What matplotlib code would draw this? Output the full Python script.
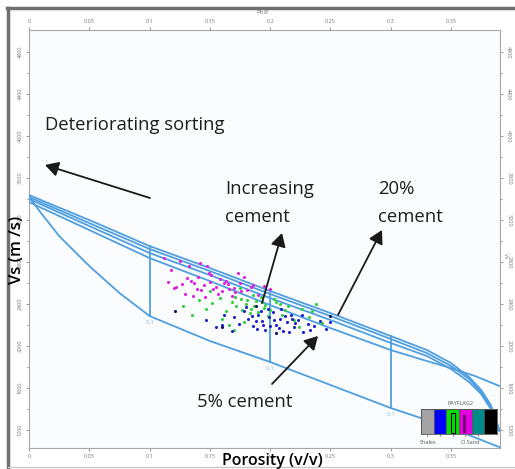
import matplotlib
matplotlib.use('Agg')
import matplotlib.pyplot as plt
from matplotlib.patches import Rectangle, FancyArrowPatch
from matplotlib.lines import Line2D

# ---------------- data ----------------
phi_grid = [0.0, 0.05, 0.10, 0.15, 0.20, 0.25, 0.30, 0.33, 0.35, 0.365, 0.375, 0.383, 0.39]
vs_cement_20 = [3438, 3200, 2952, 2743, 2524, 2314, 2095, 1962, 1838, 1705, 1581, 1438, 1200]
vs_cement_15 = [3419, 3171, 2924, 2714, 2495, 2286, 2067, 1933, 1810, 1686, 1562, 1419, 1195]
vs_cement_10 = [3400, 3143, 2886, 2676, 2457, 2248, 2029, 1905, 1781, 1657, 1543, 1400, 1190]
phi_cement_5 = [0.0, 0.05, 0.10, 0.15, 0.20, 0.25, 0.30, 0.33, 0.35, 0.37, 0.39]
vs_cement_5 = [3371, 3105, 2838, 2619, 2390, 2171, 1962, 1857, 1790, 1714, 1620]

phi_uncemented = [0.0, 0.01, 0.025, 0.05, 0.075, 0.10, 0.15, 0.20, 0.25, 0.30, 0.35, 0.39]
vs_uncemented = [3419, 3267, 3048, 2762, 2505, 2286, 2048, 1848, 1629, 1410, 1219, 1038]

iso_phi = [0.1, 0.2, 0.3]
iso_top = [2952, 2524, 2095]
iso_bottom = [2286, 1848, 1410]
iso_label = ['0.1', '0.1', '0.1']

magenta_phi = [0.112, 0.118, 0.125, 0.131, 0.137, 0.142, 0.148, 0.122, 0.127, 0.134, 0.139, 0.145, 0.150, 0.155,
               0.160, 0.165, 0.170, 0.175, 0.181, 0.186, 0.129, 0.136, 0.143, 0.151, 0.158, 0.163, 0.168, 0.173,
               0.178, 0.146, 0.153, 0.157, 0.162, 0.171, 0.184, 0.190, 0.115, 0.120, 0.140, 0.149, 0.166, 0.176,
               0.195, 0.200, 0.133]
magenta_vs = [2840, 2720, 2810, 2650, 2600, 2790, 2760, 2560, 2590, 2620, 2540, 2580, 2610, 2560,
              2520, 2590, 2550, 2600, 2530, 2580, 2500, 2480, 2530, 2680, 2640, 2620, 2480, 2700,
              2660, 2470, 2540, 2500, 2600, 2510, 2560, 2490, 2610, 2550, 2660, 2700, 2540, 2520,
              2570, 2540, 2760]

green_phi = [0.128, 0.135, 0.141, 0.147, 0.152, 0.158, 0.163, 0.168, 0.172, 0.176, 0.180, 0.184, 0.188, 0.192,
             0.196, 0.200, 0.205, 0.210, 0.215, 0.220, 0.226, 0.232, 0.238, 0.160, 0.166, 0.171, 0.177, 0.183,
             0.187, 0.193, 0.198, 0.203, 0.170, 0.178, 0.186, 0.195, 0.212, 0.224, 0.150, 0.208, 0.190, 0.175,
             0.235, 0.243, 0.181]
green_vs = [2380, 2300, 2440, 2350, 2410, 2460, 2330, 2420, 2380, 2450, 2400, 2350, 2430, 2470,
            2390, 2340, 2420, 2300, 2380, 2250, 2350, 2280, 2400, 2260, 2200, 2470, 2340, 2310,
            2380, 2420, 2290, 2450, 2150, 2230, 2490, 2360, 2340, 2180, 2520, 2400, 2320, 2550,
            2330, 2220, 2440]

blue_phi = [0.147, 0.155, 0.162, 0.168, 0.174, 0.178, 0.182, 0.186, 0.190, 0.193, 0.196, 0.199, 0.202, 0.205,
            0.208, 0.211, 0.214, 0.217, 0.220, 0.223, 0.227, 0.231, 0.236, 0.241, 0.246, 0.180, 0.185, 0.189,
            0.194, 0.198, 0.203, 0.207, 0.212, 0.216, 0.221, 0.192, 0.200, 0.209, 0.218, 0.226, 0.170, 0.233,
            0.160, 0.250, 0.188]
blue_vs = [2250, 2180, 2300, 2140, 2210, 2330, 2260, 2190, 2300, 2240, 2150, 2280, 2320, 2200,
           2260, 2140, 2230, 2300, 2180, 2250, 2130, 2210, 2190, 2240, 2160, 2370, 2290, 2160,
           2200, 2350, 2250, 2170, 2290, 2130, 2220, 2330, 2190, 2350, 2260, 2300, 2280, 2150,
           2200, 2230, 2240]

navy_phi = [0.121, 0.160, 0.205, 0.250, 0.188]
navy_vs = [2333, 2180, 2120, 2290, 2380]

x_ticks = [0, 0.05, 0.1, 0.15, 0.2, 0.25, 0.3, 0.35]
x_ticklabels = ['0', '0.05', '0.1', '0.15', '0.2', '0.25', '0.3', '0.35']
y_ticks = [1200, 1600, 2000, 2400, 2800, 3200, 3600, 4000, 4400, 4800]

legend_title = 'PAYFLAG2'
legend_colors = ['#a3a3a3', '#0000ff', '#00e000', '#e000e0', '#008b8b', '#000000']
legend_labels = ['Shales', 'O Sand']

# ---------------- figure ----------------
W, H = 515, 469
fig = plt.figure(figsize=(W / 100, H / 100), dpi=100)
fig.patch.set_facecolor('white')
plt.rcParams['font.family'] = ['Open Sans', 'DejaVu Sans']


def fx(x):
    return x / W


def fy(y):
    return 1 - y / H


# outer frame lines
fig.add_artist(Line2D([fx(8), fx(8)], [fy(8), fy(469)], color='#707070', lw=2.5))
fig.add_artist(Line2D([fx(7), fx(515)], [fy(8), fy(8)], color='#707070', lw=2.5))
fig.add_artist(Line2D([fx(8), fx(515)], [fy(467), fy(467)], color='#c8c8c8', lw=1))

ax = fig.add_axes([fx(29), fy(448), (500 - 29) / W, (448 - 30) / H])
ax.set_xlim(0, 0.3906)
ax.set_ylim(1029, 5010)
ax.set_facecolor('#fbfcfe')
for s in ax.spines.values():
    s.set_color('#a8a8a8')
    s.set_linewidth(0.8)

lc = '#4f9fe0'
for vs in (vs_cement_20, vs_cement_15, vs_cement_10):
    ax.plot(phi_grid, vs, color=lc, lw=1.3, zorder=3)
ax.plot(phi_cement_5, vs_cement_5, color=lc, lw=1.3, zorder=3)
ax.plot(phi_uncemented, vs_uncemented, color=lc, lw=1.3, zorder=3)
for p, t, b, lab in zip(iso_phi, iso_top, iso_bottom, iso_label):
    ax.plot([p, p], [t, b], color=lc, lw=1.3, zorder=3)
    ax.text(p, b - 40, lab, color='#8fbfe8', fontsize=4.5, ha='center', va='top')

ms = 5
ax.scatter(magenta_phi, magenta_vs, s=ms, color='#e020e0', zorder=4, linewidths=0)
ax.scatter(green_phi, green_vs, s=ms, color='#30d040', zorder=4, linewidths=0)
ax.scatter(blue_phi, blue_vs, s=ms, color='#2020c8', zorder=5, linewidths=0)
ax.scatter(navy_phi, navy_vs, s=ms, color='#101060', zorder=5, linewidths=0)

ax.set_xticks(x_ticks)
ax.set_xticklabels(x_ticklabels)
ax.set_yticks(y_ticks)
ax.set_yticks(list(range(1200, 5000, 200)), minor=True)
ax.tick_params(which='both', direction='out', colors='#888888', labelsize=4,
               top=True, labeltop=True, right=True, labelright=True, length=2.5, width=0.6, pad=2)
ax.tick_params(which='minor', length=1.5)
for t in ax.yaxis.get_major_ticks():
    t.label1.set_rotation(90)
    t.label1.set_va('center')
    t.label2.set_rotation(270)
    t.label2.set_va('center')
for lbl in ax.get_xticklabels() + ax.get_yticklabels():
    lbl.set_color('#777777')

# axis titles
fig.text(fx(272), fy(461), 'Porosity (v/v)', fontsize=11.5, fontweight='semibold', ha='center', va='center')
fig.text(fx(17), fy(250), 'Vs (m /s)', fontsize=12, fontweight='semibold', rotation=90, ha='center', va='center')
fig.text(fx(263), fy(12), 'PhiE', fontsize=4.5, color='#777777', ha='center', va='center')
fig.text(fx(506), fy(256), 'Vs', fontsize=3.5, color='#777777', rotation=270, ha='center', va='center')

# annotations
fs = 13.3
tc = '#1e1e1e'
fig.text(fx(45), fy(125), 'Deteriorating sorting', fontsize=fs, ha='left', va='center', color=tc)
fig.text(fx(225), fy(189), 'Increasing', fontsize=fs, ha='left', va='center', color=tc)
fig.text(fx(225), fy(217), 'cement', fontsize=fs, ha='left', va='center', color=tc)
fig.text(fx(378), fy(189), '20%', fontsize=fs, ha='left', va='center', color=tc)
fig.text(fx(378), fy(217), 'cement', fontsize=fs, ha='left', va='center', color=tc)
fig.text(fx(197), fy(402), '5% cement', fontsize=fs, ha='left', va='center', color=tc)

arrows = [((150, 198), (45, 165)), ((262, 303), (282, 233)), ((338, 315), (382, 230)), ((272, 384), (318, 336))]
for (x0, y0), (x1, y1) in arrows:
    fig.add_artist(FancyArrowPatch(
        (fx(x0), fy(y0)), (fx(x1), fy(y1)), transform=fig.transFigure,
        arrowstyle='-|>,head_length=8,head_width=4.5', color='#1a1a1a', lw=1.3,
        shrinkA=0, shrinkB=0, zorder=10))

# legend colour bar
lax = fig.add_axes([fx(421), fy(434), (497 - 421) / W, (434 - 409) / H])
lax.set_xlim(0, len(legend_colors))
lax.set_ylim(0, 1)
lax.bar(range(len(legend_colors)), [1] * len(legend_colors), width=1, align='edge',
        color=legend_colors, edgecolor='#555555', linewidth=0.5)
lax.add_patch(Rectangle((2.4, 0.05), 0.25, 0.8, facecolor='none', edgecolor='#000000', lw=0.8))
lax.add_patch(Rectangle((3.3, 0.05), 0.22, 0.7, facecolor='#7a007a', edgecolor='none'))
lax.set_xticks([0.5, 1.5, 2.5, 3.5, 4.5])
lax.set_xticklabels([])
lax.set_yticks([])
lax.tick_params(length=1.5, width=0.5, colors='#555555')
for s in lax.spines.values():
    s.set_color('#555555')
    s.set_linewidth(0.6)
fig.text(fx(460), fy(403), legend_title, fontsize=4, color='#555555', ha='center', va='center')
fig.text(fx(428), fy(442), legend_labels[0], fontsize=4, color='#555555', ha='center', va='center')
fig.text(fx(470), fy(442), legend_labels[1], fontsize=4, color='#555555', ha='center', va='center')

fig.savefig('out.png', dpi=100)
